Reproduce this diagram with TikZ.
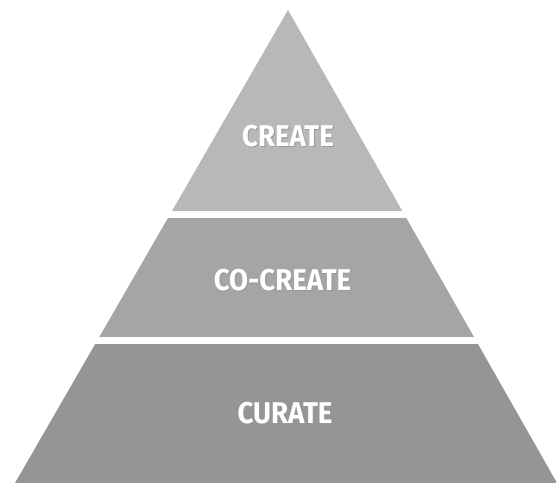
\documentclass[tikz,border=0pt]{standalone}
\usepackage{fontspec}
\setmainfont{Fira Sans}
\begin{document}
\begin{tikzpicture}[x=1pt,y=-1pt,
  lbl/.style={text=white,font=\bfseries\fontsize{30}{30}\selectfont,inner sep=0pt,anchor=center},
  shd/.style={text=black!40,font=\bfseries\fontsize{30}{30}\selectfont,inner sep=0pt,anchor=center}]
\useasboundingbox (0,0) rectangle (556,483);
\fill[white] (0,0) rectangle (556,483);
\begin{scope}
  \clip (288,10) -- (557,483) -- (15,483) -- cycle;
  \fill[fill={rgb,255:red,184;green,184;blue,184}] (0,0) rectangle (556,211);
  \fill[fill={rgb,255:red,165;green,165;blue,165}] (0,218) rectangle (556,337);
  \fill[fill={rgb,255:red,149;green,149;blue,149}] (0,344) rectangle (556,483);
\end{scope}
\node[shd] at (289,137) {\scalebox{0.92}[1]{CREATE}};
\node[lbl] (create) at (288,136) {\scalebox{0.92}[1]{CREATE}};
\node[shd] at (283.5,281) {\scalebox{0.92}[1]{CO-CREATE}};
\node[lbl] (cocreate) at (282.5,280) {\scalebox{0.92}[1]{CO-CREATE}};
\node[shd] at (286,414) {\scalebox{0.92}[1]{CURATE}};
\node[lbl] (curate) at (285,413) {\scalebox{0.92}[1]{CURATE}};
\end{tikzpicture}
\end{document}
